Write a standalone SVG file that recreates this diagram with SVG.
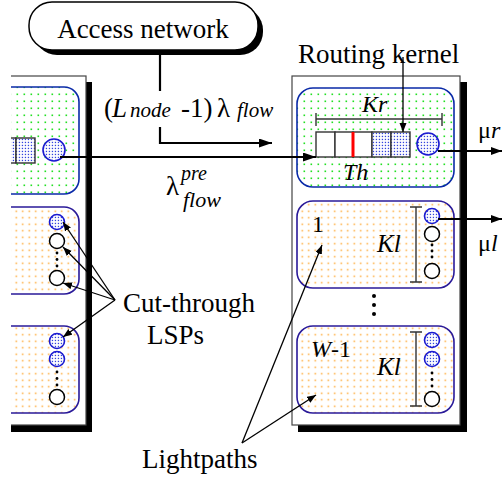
<svg xmlns="http://www.w3.org/2000/svg" width="504" height="481" viewBox="0 0 504 481" font-family="'Liberation Serif', 'Times New Roman', serif">
  <defs>
    <style>
      text { font-family: "Liberation Serif", "Times New Roman", serif; fill: #000; }
      .lbl { font-size: 27px; }
      .it { font-style: italic; }
      .box { fill: #fff; stroke: #444; stroke-width: 1.2; }
      .shadow { fill: #000; }
      .gpanel { fill: url(#gdots); stroke: #0a2aa8; stroke-width: 1.6; }
      .opanel { fill: url(#odots); stroke: #2a1a99; stroke-width: 1.6; }
      .cell { fill: #fff; stroke: #333; stroke-width: 1.4; }
      .bcell { fill: url(#bdots); stroke: #333; stroke-width: 1.4; }
      .bcirc { fill: url(#bdots); stroke: #1a1ad0; stroke-width: 1.6; }
      .wcirc { fill: #fff; stroke: #000; stroke-width: 1.5; }
      .bar { stroke: #333; stroke-width: 1.4; fill: none; }
      .flow { stroke: #000; stroke-width: 2.2; fill: none; }
      .thin { stroke: #000; stroke-width: 1.3; fill: none; }
    </style>
    <pattern id="gdots" width="7" height="7" patternUnits="userSpaceOnUse">
      <rect width="7" height="7" fill="#fff"/>
      <rect x="2.5" y="2.5" width="1.6" height="1.6" fill="#22e022"/>
    </pattern>
    <pattern id="odots" width="6.5" height="6.5" patternUnits="userSpaceOnUse">
      <rect width="6.5" height="6.5" fill="#fff"/>
      <rect x="2.5" y="2.5" width="1.5" height="1.5" fill="#ffaa33"/>
    </pattern>
    <pattern id="bdots" width="3" height="3" patternUnits="userSpaceOnUse">
      <rect width="3" height="3" fill="#fff"/>
      <rect x="0.8" y="0.8" width="1.3" height="1.3" fill="#3344dd"/>
    </pattern>
    <marker id="ahBig" markerUnits="userSpaceOnUse" markerWidth="14" markerHeight="10" refX="13" refY="4.5" orient="auto">
      <path d="M0,0 L13,4.5 L0,9 z" fill="#000"/>
    </marker>
    <marker id="ahMid" markerUnits="userSpaceOnUse" markerWidth="12" markerHeight="10" refX="11" refY="4" orient="auto">
      <path d="M0,0 L11,4 L0,8 z" fill="#000"/>
    </marker>
    <marker id="ahSmall" markerUnits="userSpaceOnUse" markerWidth="10" markerHeight="8" refX="9" refY="3.5" orient="auto">
      <path d="M0,0 L9,3.5 L0,7 z" fill="#000"/>
    </marker>
    <clipPath id="leftClip">
      <rect x="11" y="0" width="200" height="481"/>
    </clipPath>
  </defs>

  <!-- Access network -->
  <g id="access-network">
    <rect x="34" y="7" width="229" height="48" rx="23" class="shadow"/>
    <rect x="29" y="2" width="229" height="48" rx="23" fill="#fff" stroke="#000" stroke-width="1.5"/>
    <text x="143" y="38" class="lbl" text-anchor="middle">Access network</text>
  </g>

  <!-- Upstream node (partly outside the frame) -->
  <g id="upstream-node" clip-path="url(#leftClip)">
    <rect x="11" y="82" width="81" height="350" class="shadow"/>
    <rect x="5" y="76" width="81" height="349" class="box"/>
    <rect x="-12" y="87" width="91" height="107" rx="15" class="gpanel"/>
    <rect x="-4" y="138" width="20" height="25" class="bcell"/>
    <rect x="16" y="138" width="19" height="25" class="bcell"/>
    <circle cx="54" cy="150" r="11" class="bcirc"/>

    <rect x="-12" y="207" width="91" height="87" rx="15" class="opanel"/>
    <circle cx="57" cy="222" r="7.5" class="bcirc"/>
    <circle cx="57" cy="241" r="7.5" class="wcirc"/>
    <circle cx="57" cy="253" r="1.4"/>
    <circle cx="57" cy="259.5" r="1.4"/>
    <circle cx="57" cy="266" r="1.4"/>
    <circle cx="57" cy="278" r="7.5" class="wcirc"/>

    <rect x="-12" y="326" width="91" height="87" rx="15" class="opanel"/>
    <circle cx="57" cy="341" r="7.5" class="bcirc"/>
    <circle cx="57" cy="359" r="7.5" class="bcirc"/>
    <circle cx="57" cy="372" r="1.4"/>
    <circle cx="57" cy="378.5" r="1.4"/>
    <circle cx="57" cy="385" r="1.4"/>
    <circle cx="57" cy="397" r="7.5" class="wcirc"/>
  </g>

  <!-- Node under study -->
  <g id="node">
    <rect x="298" y="82" width="169" height="350" class="shadow"/>
    <rect x="292" y="76" width="168" height="349" class="box"/>

    <g id="routing-kernel">
      <rect x="297" y="88" width="157" height="99" rx="16" class="gpanel"/>
      <text x="362" y="112" class="it" font-size="24">Kr</text>
      <path d="M316,119 H442 M316,113 V126 M442,113 V126" class="bar"/>
      <rect x="316" y="132" width="19" height="25" class="cell"/>
      <rect x="335" y="132" width="18" height="25" class="cell"/>
      <rect x="353" y="132" width="19" height="25" class="cell"/>
      <rect x="372" y="132" width="19" height="25" class="bcell"/>
      <rect x="391" y="132" width="19" height="25" class="bcell"/>
      <line x1="353" y1="132" x2="353" y2="157" stroke="#ff0000" stroke-width="3"/>
      <circle cx="428" cy="144" r="11" class="bcirc"/>
      <text x="343" y="180" class="it" font-size="24">Th</text>
    </g>

    <g id="lightpath-1">
      <rect x="297" y="201" width="157" height="87" rx="16" class="opanel"/>
      <text x="312" y="232" font-size="24">1</text>
      <text x="377" y="252" class="it" font-size="25">Kl</text>
      <path d="M416,207 V282 M410,207 H422 M410,282 H422" class="bar"/>
      <circle cx="432" cy="216" r="7.5" class="bcirc"/>
      <circle cx="432" cy="234" r="7.5" class="wcirc"/>
      <circle cx="432" cy="245" r="1.4"/>
      <circle cx="432" cy="251" r="1.4"/>
      <circle cx="432" cy="257" r="1.4"/>
      <circle cx="432" cy="271" r="7.5" class="wcirc"/>
    </g>

    <circle cx="374" cy="296" r="2"/>
    <circle cx="374" cy="305" r="2"/>
    <circle cx="374" cy="314" r="2"/>

    <g id="lightpath-w1">
      <rect x="297" y="326" width="157" height="87" rx="16" class="opanel"/>
      <text x="311" y="357" font-size="24"><tspan class="it">W</tspan>-1</text>
      <text x="377" y="375" class="it" font-size="25">Kl</text>
      <path d="M416,332 V406 M410,332 H422 M410,406 H422" class="bar"/>
      <circle cx="432" cy="340" r="7.5" class="bcirc"/>
      <circle cx="432" cy="359" r="7.5" class="bcirc"/>
      <circle cx="432" cy="373" r="1.4"/>
      <circle cx="432" cy="379.5" r="1.4"/>
      <circle cx="432" cy="386" r="1.4"/>
      <circle cx="432" cy="399" r="7.5" class="wcirc"/>
    </g>
  </g>

  <!-- Connectors -->
  <g id="connectors">
    <path d="M160,50 V91" class="flow"/>
    <path d="M160,127 V143 H272" class="flow" marker-end="url(#ahBig)"/>
    <path d="M60,157 H316" class="flow" marker-end="url(#ahBig)"/>
    <path d="M403,57 V132" class="thin" marker-end="url(#ahSmall)"/>
    <path d="M438,151 H502" class="flow" marker-end="url(#ahMid)"/>
    <path d="M438,219 H502" class="flow" marker-end="url(#ahMid)"/>

    <path d="M115,300 L63,222" class="thin" marker-end="url(#ahSmall)"/>
    <path d="M115,300 L63,247" class="thin" marker-end="url(#ahSmall)"/>
    <path d="M115,300 L63,283" class="thin" marker-end="url(#ahSmall)"/>
    <path d="M115,300 L63,337" class="thin" marker-end="url(#ahSmall)"/>

    <path d="M242,443 L322,245" class="thin" marker-end="url(#ahSmall)"/>
    <path d="M242,443 L316,395" class="thin" marker-end="url(#ahSmall)"/>
  </g>

  <!-- Labels -->
  <g id="labels">
    <text y="117" class="lbl"><tspan x="104">(</tspan><tspan x="112" class="it">L</tspan><tspan x="130" class="it" font-size="21">node</tspan><tspan x="181">-1)</tspan><tspan x="217">λ</tspan><tspan x="237" class="it" font-size="21">flow</tspan></text>
    <text x="166" y="195" class="lbl">λ</text>
    <text x="181" y="180" class="it" font-size="20">pre</text>
    <text x="183" y="207" class="it" font-size="22">flow</text>
    <text x="298" y="63" class="lbl">Routing kernel</text>
    <text x="478" y="138" font-size="24">μ<tspan class="it">r</tspan></text>
    <text x="478" y="251" font-size="24">μ<tspan class="it">l</tspan></text>
    <text x="123" y="312" class="lbl">Cut-through</text>
    <text x="147" y="344" class="lbl">LSPs</text>
    <text x="142" y="468" class="lbl">Lightpaths</text>
  </g>
</svg>
